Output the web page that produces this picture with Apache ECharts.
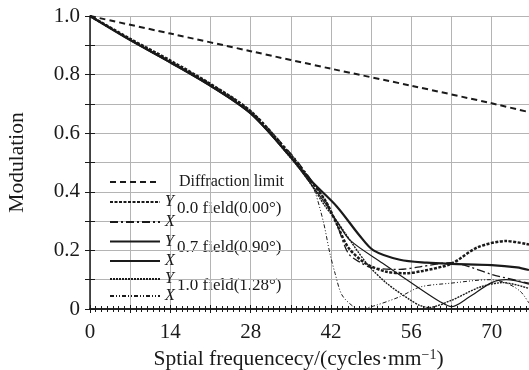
<!DOCTYPE html>
<html>
<head>
<meta charset="utf-8">
<title>MTF</title>
<script src="https://cdn.jsdelivr.net/npm/echarts@6/dist/echarts.min.js"></script>
<style>
  html, body { margin: 0; padding: 0; background: #fff; }
  #chart { width: 529px; height: 370px; }
</style>
</head>
<body>
<div id="chart"></div>
<script>
// values: [frequency, modulation]
const diffLimit = [[0, 1], [14, 0.94], [28, 0.88], [42, 0.82], [56, 0.762], [70, 0.702], [76.5, 0.672]];

const field00Y = [[0, 1], [7, 0.922], [14, 0.848], [21, 0.768], [28, 0.675], [35, 0.525], [38, 0.45], [41, 0.37],
  [43, 0.29], [45, 0.21], [48, 0.156], [51.5, 0.128], [55, 0.122], [58, 0.13], [63, 0.155], [67.5, 0.21],
  [72.5, 0.232], [76.5, 0.22]];
const field00X = [[0, 1], [7, 0.92], [14, 0.845], [21, 0.768], [28, 0.675], [35, 0.53], [38, 0.455], [41, 0.37],
  [43, 0.29], [45, 0.19], [47, 0.16], [49, 0.142], [54, 0.135], [57.5, 0.144], [62.8, 0.158], [66, 0.145],
  [70, 0.118], [76.5, 0.088]];
const field07Y = [[0, 1], [7, 0.918], [14, 0.842], [21, 0.762], [28, 0.668], [35, 0.52], [38.4, 0.44], [43, 0.35],
  [47, 0.25], [49.4, 0.2], [54, 0.168], [58.7, 0.158], [63, 0.154], [70, 0.15], [74.4, 0.142], [76.5, 0.133]];
const field07X = [[0, 1], [7, 0.917], [14, 0.84], [21, 0.76], [28, 0.665], [35, 0.515], [38, 0.44], [41, 0.36],
  [43, 0.3], [45.3, 0.235], [51, 0.156], [57, 0.076], [61, 0.025], [63, 0.008], [66, 0.04], [70, 0.09],
  [72.5, 0.1], [76.5, 0.085]];
const field10Y = [[0, 1], [7, 0.918], [14, 0.842], [21, 0.762], [28, 0.668], [35, 0.515], [38, 0.44], [41, 0.35],
  [43, 0.3], [48.2, 0.156], [51.7, 0.088], [55.8, 0.031], [57.5, 0.012], [59, 0.005], [63, 0.03], [68, 0.075],
  [72, 0.09], [76.5, 0.07]];
const field10X = [[0, 1], [7, 0.92], [14, 0.845], [21, 0.765], [28, 0.67], [35, 0.52], [38, 0.445], [39.2, 0.4],
  [40.7, 0.295], [41.8, 0.19], [42.7, 0.122], [43.9, 0.048], [45.9, 0.008], [47, 0], [49.4, 0.01], [54, 0.042],
  [57.5, 0.075], [62.8, 0.088], [69.7, 0.1], [72.6, 0.088], [75, 0.06], [76.5, 0.02]];

const fieldLabels = ['0.0 field(0.00°)', '0.7 field(0.90°)', '1.0 field(1.28°)'];

const FONT = 'Liberation Serif';
const INK = '#1a1a1a';

const chart = echarts.init(document.getElementById('chart'), null, { renderer: 'canvas' });

function line(name, data, width, type) {
  return {
    name, type: 'line', data, smooth: 0.3, symbol: 'none',
    lineStyle: { color: INK, width, type },
    itemStyle: { color: INK },
    z: 3
  };
}

// one legend box per entry so each sits where the reference puts it
// Y labels sit a little high, X labels a little low, like the reference
function legendEntry(name, centerY, label, kind) {
  let pad = [0, 0, 0, 14];
  if (kind === 'Y') pad = [0, 0, 6, 0];
  if (kind === 'X') pad = [5, 0, 0, 0];
  return {
    data: [name],
    left: 109, top: centerY - 5,
    itemWidth: 50, itemHeight: 10, itemGap: 0,
    padding: 0,
    selectedMode: false,
    itemStyle: { color: 'rgba(0,0,0,0)', borderWidth: 0, opacity: 0 },
    formatter: () => label,
    textStyle: {
      fontFamily: FONT, fontSize: 16, color: INK,
      fontStyle: kind ? 'italic' : 'normal',
      padding: pad
    }
  };
}

const axisText = { fontFamily: FONT, fontSize: 21, color: INK };

chart.setOption({
  animation: false,
  backgroundColor: '#fff',
  textStyle: { fontFamily: FONT },
  grid: { left: 90, top: 16, width: 439, bottom: 61, outerBoundsMode: 'none', containLabel: false },
  xAxis: [
    {
      type: 'value', min: 0, max: 76.5, interval: 7,
      name: 'Sptial frequencecy/(cycles·mm{sup|−1})',
      nameLocation: 'middle', nameGap: 38,
      nameTextStyle: {
        ...axisText, fontSize: 21.5, padding: [0, 22, 0, 0],
        rich: { sup: { fontFamily: FONT, fontSize: 14, color: INK, verticalAlign: 'top', padding: [0, 0, 8, 0] } }
      },
      axisLine: { show: true, lineStyle: { color: INK, width: 1.5 } },
      axisTick: { show: true, inside: true, length: 4, lineStyle: { color: INK } },
      minorTick: { show: true, splitNumber: 7, length: 3, lineStyle: { color: INK } },
      axisLabel: {
        ...axisText, margin: 13,
        formatter: v => (v % 14 === 0 ? String(v) : '')
      },
      splitLine: { show: true, lineStyle: { color: '#b4b4b4', width: 1 } }
    },
    {
      type: 'value', position: 'top', min: 0, max: 76.5, interval: 7,
      axisLine: { show: true, lineStyle: { color: INK, width: 1.5 } },
      axisTick: { show: true, inside: true, length: 4, lineStyle: { color: INK } },
      minorTick: { show: true, splitNumber: 7, length: 3, lineStyle: { color: INK } },
      axisLabel: { show: false },
      splitLine: { show: false }
    }
  ],
  yAxis: [
    {
      type: 'value', min: 0, max: 1, interval: 0.1,
      name: 'Modulation', nameLocation: 'middle', nameGap: 62,
      nameTextStyle: { ...axisText, fontSize: 21.5 },
      axisLine: { show: true, lineStyle: { color: INK, width: 1.5 } },
      axisTick: { show: true, inside: true, length: 5, lineStyle: { color: INK } },
      axisLabel: {
        ...axisText, margin: 10,
        formatter: v => {
          const r = Math.round(v * 10);
          if (r % 2 !== 0) return '';
          return r === 0 ? '0' : (r / 10).toFixed(1);
        }
      },
      splitLine: { show: true, lineStyle: { color: '#b4b4b4', width: 1 } }
    },
    {
      type: 'value', position: 'right', min: 0, max: 1, interval: 0.1,
      axisLine: { show: false },
      axisTick: { show: true, inside: true, length: 5, lineStyle: { color: INK } },
      axisLabel: { show: false },
      splitLine: { show: false }
    }
  ],
  legend: [
    legendEntry('Diffraction limit', 179, 'Diffraction limit', null),
    legendEntry('0.0 Y', 199, 'Y', 'Y'),
    legendEntry('0.0 X', 219, 'X', 'X'),
    legendEntry('0.7 Y', 238.5, 'Y', 'Y'),
    legendEntry('0.7 X', 258, 'X', 'X'),
    legendEntry('1.0 Y', 276, 'Y', 'Y'),
    legendEntry('1.0 X', 293, 'X', 'X')
  ],
  graphic: [
    { type: 'text', left: 177, top: 200, style: { text: fieldLabels[0], font: "17px 'Liberation Serif'", fill: INK } },
    { type: 'text', left: 177, top: 239, style: { text: fieldLabels[1], font: "17px 'Liberation Serif'", fill: INK } },
    { type: 'text', left: 177, top: 277, style: { text: fieldLabels[2], font: "17px 'Liberation Serif'", fill: INK } }
  ],
  series: [
    line('Diffraction limit', diffLimit, 2, [6, 4]),
    line('0.0 Y', field00Y, 2.5, [3, 1.5]),
    line('0.0 X', field00X, 1.3, [8, 3, 2, 3]),
    line('0.7 Y', field07Y, 2.2, 'solid'),
    line('0.7 X', field07X, 1.2, 'solid'),
    line('1.0 Y', field10Y, 1.4, [2, 1]),
    line('1.0 X', field10X, 1, [4, 2, 1, 2, 1, 2])
  ]
});
</script>
</body>
</html>
